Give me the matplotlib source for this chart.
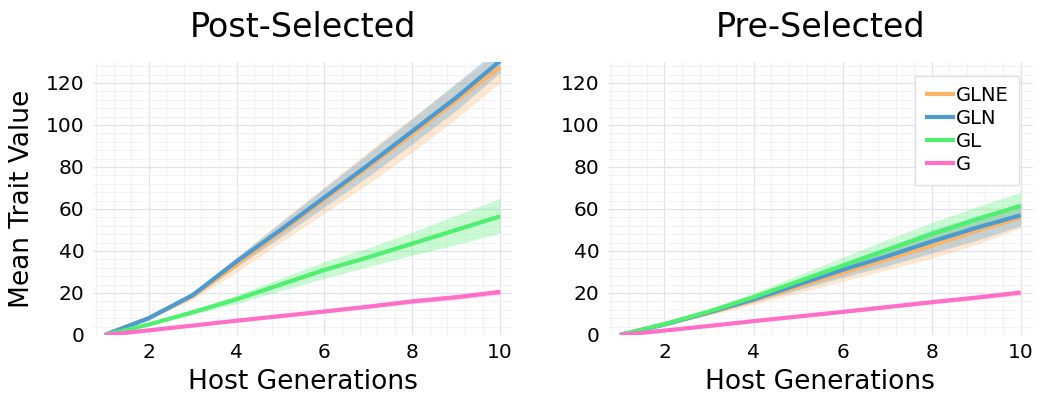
import matplotlib
matplotlib.use("Agg")
import matplotlib.pyplot as plt
from matplotlib.ticker import MultipleLocator

gens = [1, 2, 3, 4, 5, 6, 7, 8, 9, 10]
series_names = ["GLNE", "GLN", "GL", "G"]
colors = {"GLNE": "#fbb56b", "GLN": "#4c9ad2", "GL": "#4ff06f", "G": "#ff6fc8"}

# Post-Selected
post_mean = {
    "GLNE": [0, 8, 18.5, 33.5, 49, 64.5, 80, 95.5, 111.5, 127.5],
    "GLN":  [0, 8, 19, 35, 50, 65.5, 81, 97, 113, 130.5],
    "GL":   [0, 5, 10.8, 17, 24, 31, 37, 43.5, 50, 56.5],
    "G":    [0, 2.2, 4.5, 6.8, 9, 11.2, 13.5, 16, 18, 20.5],
}
post_lo = {
    "GLNE": [0, 7.5, 17, 30, 44, 58, 72, 87, 103, 120],
    "GLN":  [0, 7.6, 18, 32.5, 46.5, 61, 75.5, 91, 107, 125],
    "GL":   [0, 4.6, 9.8, 15, 21, 27, 32.5, 38, 43, 48.5],
    "G":    [0, 2.0, 4.1, 6.3, 8.3, 10.4, 12.6, 14.9, 16.8, 19.2],
}
post_hi = {
    "GLNE": [0, 8.5, 20, 37, 54, 70.5, 87.5, 103.5, 119.5, 135],
    "GLN":  [0, 8.4, 20, 37, 53.5, 70, 86.5, 103, 120, 137],
    "GL":   [0, 5.4, 11.8, 19, 27, 35, 41.5, 49, 57, 65],
    "G":    [0, 2.4, 4.9, 7.3, 9.7, 12.0, 14.4, 17.1, 19.2, 21.8],
}

# Pre-Selected
pre_mean = {
    "GLNE": [0, 5, 10.5, 16.5, 23, 29.5, 36, 42.5, 49.5, 56],
    "GLN":  [0, 5, 10.8, 17, 24, 31, 37.5, 44.5, 51, 57],
    "GL":   [0, 5.2, 11.2, 18, 25.5, 33, 40.5, 48, 55, 61.5],
    "G":    [0, 2.1, 4.3, 6.6, 8.8, 11, 13.3, 15.6, 17.8, 20.2],
}
pre_lo = {
    "GLNE": [0, 4.5, 9.5, 14.5, 20, 25.5, 31, 36.5, 43, 51],
    "GLN":  [0, 4.6, 10, 15.5, 21.5, 27.5, 33, 39, 45, 52],
    "GL":   [0, 4.8, 10.3, 16.5, 23, 29.5, 36, 42.5, 49, 55],
    "G":    [0, 1.9, 4.0, 6.2, 8.2, 10.3, 12.5, 14.7, 16.8, 19.0],
}
pre_hi = {
    "GLNE": [0, 5.5, 11.5, 18.5, 26, 33.5, 41, 48.5, 56, 63],
    "GLN":  [0, 5.4, 11.6, 18.5, 26.5, 34.5, 42, 50, 56.5, 62],
    "GL":   [0, 5.6, 12.2, 20, 28.5, 37, 45.5, 53.5, 61, 68],
    "G":    [0, 2.3, 4.6, 7.0, 9.4, 11.7, 14.1, 16.5, 18.8, 21.4],
}

panels = [
    ("Post-Selected", post_mean, post_lo, post_hi),
    ("Pre-Selected", pre_mean, pre_lo, pre_hi),
]

fig = plt.figure(figsize=(10.41, 4.01), dpi=100)
rects = [[0.0893, 0.1646, 0.4025, 0.681], [0.584, 0.1646, 0.408, 0.681]]

for i, (title, mean, lo, hi) in enumerate(panels):
    ax = fig.add_axes(rects[i])
    for name in series_names:
        ax.fill_between(gens, lo[name], hi[name], color=colors[name], alpha=0.3, linewidth=0)
    for name in series_names:
        ax.plot(gens, mean[name], color=colors[name], lw=3, label=name, solid_capstyle="butt")
    ax.set_xlim(0.73, 10.27)
    ax.set_ylim(0, 130)
    ax.xaxis.set_major_locator(MultipleLocator(2))
    ax.xaxis.set_minor_locator(MultipleLocator(0.4))
    ax.yaxis.set_major_locator(MultipleLocator(20))
    ax.yaxis.set_minor_locator(MultipleLocator(4))
    ax.grid(True, which="major", color="#e2e2ea", lw=0.9)
    ax.grid(True, which="minor", color="#f2f2f6", lw=0.7)
    ax.set_axisbelow(True)
    for s in ax.spines.values():
        s.set_visible(False)
    ax.tick_params(which="both", length=0, labelsize=14.5, pad=6)
    ax.set_xticks([2, 4, 6, 8, 10])
    ax.set_title(title, fontsize=24, pad=18)
    ax.set_xlabel("Host Generations", fontsize=19, labelpad=5)
    if i == 0:
        ax.set_ylabel("Mean Trait Value", fontsize=19, labelpad=8)
    else:
        leg = ax.legend(loc="upper right", fontsize=14, handlelength=1.5,
                        handletextpad=0.05, borderpad=0.55, labelspacing=0.2,
                        fancybox=False, framealpha=1.0, borderaxespad=0.7)
        leg.get_frame().set_edgecolor("#e0e0e8")
        leg.get_frame().set_linewidth(1.0)

fig.savefig("out.png", dpi=100)
